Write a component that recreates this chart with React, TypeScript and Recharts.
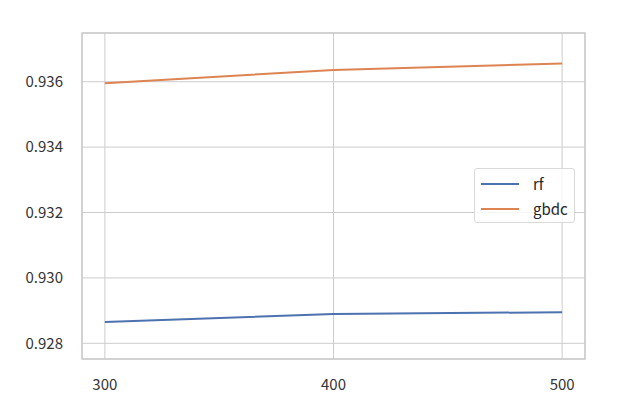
import { LineChart, Line, XAxis, YAxis, CartesianGrid, ReferenceArea } from 'recharts';

const nEstimators = [300, 400, 500];
const rfScores = [0.92865, 0.9289, 0.92895];
const gbdcScores = [0.93595, 0.93636, 0.93656];
const yTicks = [0.928, 0.93, 0.932, 0.934, 0.936];
const xTicks = [300, 400, 500];

const seriesInfo = [
  { key: 'rf', color: '#4c72b0' },
  { key: 'gbdc', color: '#dd8452' },
];

const FONT = '"Noto Sans CJK SC", "Noto Sans", sans-serif';

// legend drawn as a plain overlay so recharts doesn't shrink the plot area for it
function LegendBox() {
  return (
    <div
      style={{
        position: 'absolute',
        left: 474,
        top: 168,
        width: 101,
        height: 55,
        border: '1px solid #d9d9d9',
        borderRadius: 3,
        background: 'rgba(255,255,255,0.8)',
        boxSizing: 'border-box',
        fontFamily: FONT,
        fontSize: 15,
        color: '#262626',
        paddingTop: 2,
      }}
    >
      {seriesInfo.map((s) => (
        <div key={s.key} style={{ display: 'flex', alignItems: 'center', height: 25 }}>
          <div style={{ width: 38, height: 2, background: s.color, marginLeft: 6, marginRight: 14 }} />
          <span style={{ lineHeight: '15px' }}>{s.key}</span>
        </div>
      ))}
    </div>
  );
}

export default function App() {
  const data = nEstimators.map((n, i) => ({ n, rf: rfScores[i], gbdc: gbdcScores[i] }));

  return (
    <div style={{ position: 'absolute', left: 0, top: 0, width: 622, height: 409, background: '#fff' }}>
      <LineChart width={622} height={409} data={data} margin={{ top: 33, right: 37, bottom: 0, left: 0 }}>
        <CartesianGrid stroke="#cccccc" strokeWidth={1} />
        <XAxis
          dataKey="n"
          type="number"
          domain={[290, 510]}
          ticks={xTicks}
          height={50}
          axisLine={false}
          tickLine={false}
          tick={{ fill: '#333', fontSize: 15, fontFamily: FONT }}
          tickMargin={14}
        />
        <YAxis
          type="number"
          domain={[0.92752, 0.93749]}
          ticks={yTicks}
          width={82}
          axisLine={false}
          tickLine={false}
          tick={{ fill: '#333', fontSize: 15, fontFamily: FONT }}
          tickFormatter={(v: number) => v.toFixed(3)}
          tickMargin={13}
          allowDataOverflow
        />
        <ReferenceArea x1={290} x2={510} y1={0.92752} y2={0.93749} fill="none" stroke="#cccccc" strokeWidth={1.5} />
        {seriesInfo.map((s) => (
          <Line
            key={s.key}
            dataKey={s.key}
            stroke={s.color}
            strokeWidth={2}
            dot={false}
            isAnimationActive={false}
          />
        ))}
      </LineChart>
      <LegendBox />
    </div>
  );
}
